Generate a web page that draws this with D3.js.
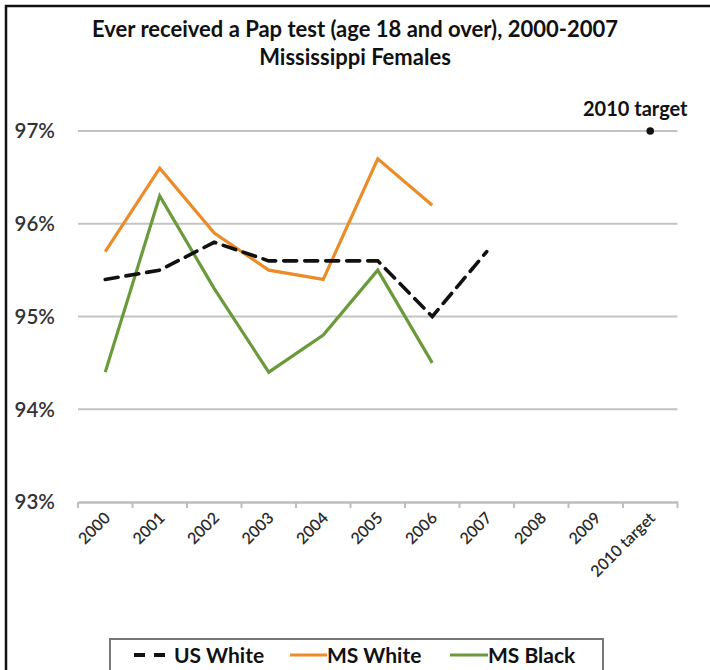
<!DOCTYPE html>
<html>
<head>
<meta charset="utf-8">
<script src="https://cdn.jsdelivr.net/npm/d3@7/dist/d3.min.js"></script>
<style>
  html, body { margin: 0; padding: 0; background: #fff; }
  svg { display: block; font-family: Lato, "Open Sans", sans-serif; }
</style>
</head>
<body>
<svg id="chart" width="710" height="670"></svg>
<script>
const categories = ["2000","2001","2002","2003","2004","2005","2006","2007","2008","2009","2010 target"];
const usWhite = [95.4, 95.5, 95.8, 95.6, 95.6, 95.6, 95.0, 95.7, null, null, null];
const msWhite = [95.7, 96.6, 95.9, 95.5, 95.4, 96.7, 96.2, null, null, null, null];
const msBlack = [94.4, 96.3, 95.3, 94.4, 94.8, 95.5, 94.5, null, null, null, null];
const target = [null, null, null, null, null, null, null, null, null, null, 97];
const yTicks = [93, 94, 95, 96, 97];
const titleLines = ["Ever received a Pap test (age 18 and over), 2000-2007", "Mississippi Females"];
const seriesNames = ["US White", "MS White", "MS Black"];

const svg = d3.select("#chart");

// outer frame (left and top edges visible)
svg.append("path").attr("d", "M6,670 V6 H710").attr("fill", "none").attr("stroke", "#111").attr("stroke-width", 2.5);

const x = d3.scaleBand().domain(categories).range([78, 677.5]).padding(0);
const y = d3.scaleLinear().domain([93, 97]).range([502, 131]);
const cx = c => x(c) + x.bandwidth() / 2;

// title
svg.append("g").selectAll("text").data(titleLines).join("text")
  .attr("x", 355).attr("y", (d, i) => 37 + i * 28)
  .attr("text-anchor", "middle").attr("font-size", 22).attr("font-weight", "bold")
  .attr("fill", "#111").text(d => d);

// gridlines
svg.append("g").selectAll("line").data(yTicks.filter(t => t !== 93)).join("line")
  .attr("x1", 78).attr("x2", 677.5).attr("y1", d => y(d)).attr("y2", d => y(d))
  .attr("stroke", "#c3c3c3").attr("stroke-width", 2);

// y axis labels
svg.append("g").selectAll("text").data(yTicks).join("text")
  .attr("x", 55).attr("y", d => y(d)).attr("dy", "0.36em")
  .attr("text-anchor", "end").attr("font-size", 20.5).attr("font-weight", 600)
  .attr("fill", "#333").text(d => d + "%");

// x axis
const xAxis = d3.axisBottom(x).tickSize(0).tickFormat("");
const gx = svg.append("g").attr("transform", "translate(0,502)").call(xAxis);
gx.select(".domain").attr("stroke", "#bdbdbd").attr("stroke-width", 2.5);
// ticks at category boundaries
const bounds = categories.map(c => x(c)).concat([x.range()[1]]);
gx.selectAll(".bt").data(bounds).join("line").attr("class", "bt")
  .attr("x1", d => d).attr("x2", d => d).attr("y1", 0).attr("y2", 6)
  .attr("stroke", "#bdbdbd").attr("stroke-width", 2);

svg.append("g").selectAll("text").data(categories).join("text")
  .attr("transform", d => `translate(${cx(d) + 6},${519}) rotate(-45)`)
  .attr("text-anchor", "end").attr("font-size", 16).attr("font-weight", 600)
  .attr("fill", "#2a2a2a").text(d => d);

// lines
const line = d3.line().defined(d => d.v != null).x(d => cx(d.c)).y(d => y(d.v));
const toPts = arr => categories.map((c, i) => ({c, v: arr[i]}));

svg.append("path").datum(toPts(msBlack)).attr("d", line)
  .attr("fill", "none").attr("stroke", "#6a9a3a").attr("stroke-width", 3.2).attr("stroke-linejoin", "miter");
svg.append("path").datum(toPts(msWhite)).attr("d", line)
  .attr("fill", "none").attr("stroke", "#eb8c28").attr("stroke-width", 3.2).attr("stroke-linejoin", "miter");
svg.append("path").datum(toPts(usWhite)).attr("d", line)
  .attr("fill", "none").attr("stroke", "#111").attr("stroke-width", 3.6)
  .attr("stroke-dasharray", "13,8").attr("stroke-linecap", "round");

// target
const tgt = toPts(target).filter(d => d.v != null);
svg.append("g").selectAll("circle").data(tgt).join("circle")
  .attr("cx", d => cx(d.c)).attr("cy", d => y(d.v)).attr("r", 3.8).attr("fill", "#111");
svg.append("g").selectAll("text").data(tgt).join("text")
  .attr("x", d => cx(d.c) - 15).attr("y", d => y(d.v) - 15)
  .attr("text-anchor", "middle").attr("font-size", 20).attr("font-weight", "bold")
  .attr("fill", "#111").text("2010 target");

// legend
const lg = svg.append("g");
lg.append("rect").attr("x", 110).attr("y", 639).attr("width", 493).attr("height", 60)
  .attr("fill", "#fff").attr("stroke", "#777").attr("stroke-width", 2);
const legendItems = [
  {name: seriesNames[0], color: "#111", dash: "11,9", x1: 134, x2: 173, tx: 174},
  {name: seriesNames[1], color: "#eb8c28", dash: null, x1: 290, x2: 327, tx: 327},
  {name: seriesNames[2], color: "#6a9a3a", dash: null, x1: 450, x2: 488, tx: 488}
];
legendItems.forEach(d => {
  lg.append("line").attr("x1", d.x1).attr("x2", d.x2).attr("y1", 655).attr("y2", 655)
    .attr("stroke", d.color).attr("stroke-width", d.dash ? 4 : 3.2)
    .attr("stroke-dasharray", d.dash);
  lg.append("text").attr("x", d.tx).attr("y", 655).attr("dy", "0.36em")
    .attr("font-size", 21).attr("font-weight", "bold").attr("fill", "#111").text(d.name);
});
</script>
</body>
</html>
